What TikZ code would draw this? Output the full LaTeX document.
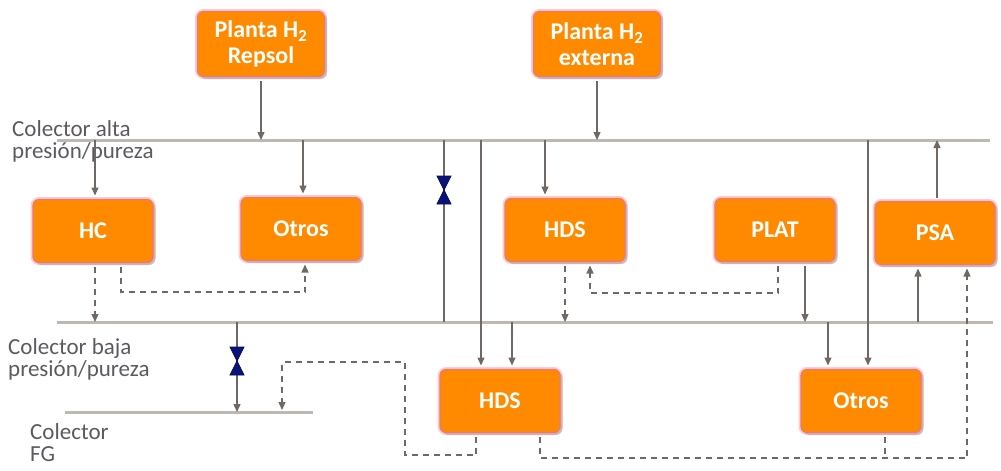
\documentclass[tikz,border=0pt]{standalone}
\usepackage{fontspec}
\setmainfont{Carlito}
\usetikzlibrary{arrows.meta,shadows}
\definecolor{boxorange}{RGB}{255,138,0}
\definecolor{glow}{RGB}{235,120,120}
\definecolor{linegray}{RGB}{112,104,98}
\definecolor{busgray}{RGB}{190,184,178}
\definecolor{labelgray}{RGB}{92,90,96}
\definecolor{valveblue}{RGB}{10,20,120}
\tikzset{
  unit/.style={rectangle,rounded corners=6pt,fill=boxorange,draw=glow,line width=1.2pt,
    minimum width=120pt,minimum height=63pt,text=white,align=center,outer sep=4pt,
    font=\fontsize{24}{26}\selectfont\bfseries,
    preaction={draw=red!20,line width=5pt},
    drop shadow={opacity=0.35,shadow xshift=2.5pt,shadow yshift=-2.5pt}},
  label/.style={anchor=north west,align=left,text=labelgray,inner sep=0pt,
    font=\fontsize{23}{22}\selectfont},
  bus/.style={draw=busgray,line width=3pt},
  flow/.style={draw=linegray,line width=1.3pt,-{Triangle[length=8pt,width=7pt]}},
  pipe/.style={draw=linegray,line width=1.3pt},
  dflow/.style={flow,dash pattern=on 6pt off 5pt},
  dpipe/.style={pipe,dash pattern=on 6pt off 5pt},
  valve/.style={fill=valveblue,draw=valveblue!70!black,line width=0.8pt}
}
\begin{document}
\begin{tikzpicture}[x=1pt,y=-1pt]
\useasboundingbox (0,0) rectangle (1001,471);
\node[unit,minimum width=127pt,minimum height=65pt](v1) at (261,44){Planta H\textsubscript{2}\\Repsol};
\node[unit,minimum width=127pt,minimum height=65pt](v2) at (597,44){Planta H\textsubscript{2}\\externa};
\node[unit](v3) at (93,231){HC};
\node[unit](v4) at (301,229){Otros};
\node[unit](v5) at (565,230){HDS};
\node[unit](v6) at (775,230){PLAT};
\node[unit](v7) at (935,233){PSA};
\node[unit](v8) at (500,401){HDS};
\node[unit](v9) at (861,401){Otros};
\node[label](l1) at (12,120){Colector alta\\presión/pureza};
\node[label](l2) at (8,338){Colector baja\\presión/pureza};
\node[label](l3) at (30,423){Colector\\FG};
\coordinate (a1) at (57,140);
\coordinate (a2) at (990,140);
\coordinate (b1) at (57,322);
\coordinate (b2) at (993,322);
\coordinate (f1) at (65,412);
\coordinate (f2) at (313,412);
\coordinate (k1) at (444,190);
\coordinate (k2) at (237,361);
\coordinate (d1) at (700,458);
\path[bus] (a1) -- (a2);
\path[bus] (b1) -- (b2);
\path[bus] (f1) -- (f2);
\path[flow] (v1.south) -- (v1.south |- a1);
\path[flow] (v2.south) -- (v2.south |- a1);
\path[flow] ([xshift=2pt]v3.north |- a1) -- ([xshift=2pt]v3.north);
\path[flow] ([xshift=2pt]v4.north |- a1) -- ([xshift=2pt]v4.north);
\path[flow] ([xshift=-20pt]v5.north |- a1) -- ([xshift=-20pt]v5.north);
\path[flow] ([xshift=2pt]v7.north) -- ([xshift=2pt]v7.north |- a1);
\path[flow] ([xshift=-19pt]v8.north |- a1) -- ([xshift=-19pt]v8.north);
\path[flow] ([xshift=12pt]v8.north |- b1) -- ([xshift=12pt]v8.north);
\path[flow] ([xshift=7pt]v9.north |- a1) -- ([xshift=7pt]v9.north);
\path[flow] ([xshift=-33pt]v9.north |- b1) -- ([xshift=-33pt]v9.north);
\path[flow] ([xshift=30pt]v6.south) -- ([xshift=30pt]v6.south |- b1);
\path[flow] ([xshift=-17pt]v7.south |- b1) -- ([xshift=-17pt]v7.south);
\path[pipe] (k1 |- a1) -- (k1 |- b1);
\path[flow] (k2 |- b1) -- (k2 |- f1);
\path[dflow] ([xshift=2pt]v3.south) -- ([xshift=2pt]v3.south |- b1);
\path[dflow] ([xshift=28pt]v3.south) |- (200,292) -| ([xshift=4pt]v4.south);
\path[dflow] (v5.south) -- (v5.south |- b1);
\path[dflow] ([xshift=3pt]v6.south) |- (700,293) -| ([xshift=25pt]v5.south);
\path[dflow] ([xshift=40pt]v8.south) |- (d1) -| ([xshift=32pt]v7.south);
\path[dpipe] ([xshift=24pt]v9.south) -- ([xshift=24pt]v9.south |- d1);
\path[dflow] ([xshift=-24pt]v8.south) |- (405,455) |- (282,362) -- (282,410);
\filldraw[valve,shift={(k1)}] (-7,-14) -- (7,-14) -- (-7,14) -- (7,14) -- cycle;
\filldraw[valve,shift={(k2)}] (-7,-14) -- (7,-14) -- (-7,14) -- (7,14) -- cycle;
\end{tikzpicture}
\end{document}
